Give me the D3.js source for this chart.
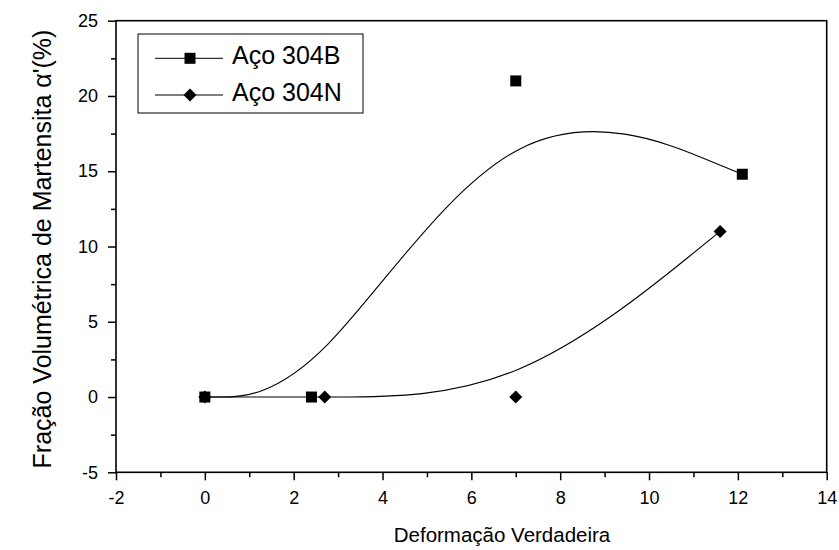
<!DOCTYPE html>
<html>
<head>
<meta charset="utf-8">
<script src="https://cdn.jsdelivr.net/npm/d3@7"></script>
<style>
  body { margin: 0; background: #fff; }
  text { font-family: "Liberation Sans", Arial, sans-serif; fill: #000; }
</style>
</head>
<body>
<div id="chart"></div>
<script>
/* data */
var seriesNames = ["Aço 304B", "Aço 304N"];
var x304B = [0, 2.4, 7, 12.1];
var y304B = [0, 0, 21, 14.8];
var x304N = [0, 2.7, 7, 11.6];
var y304N = [0, 0, 0, 11];
var xTicks = [-2, 0, 2, 4, 6, 8, 10, 12, 14];
var yTicks = [-5, 0, 5, 10, 15, 20, 25];

/* setup */
var width = 839, height = 550;
var plotLeft = 116, plotRight = 826.7, plotTop = 20.7, plotBottom = 472.3;

var svg = d3.select('#chart').append('svg')
    .attr('width', width)
    .attr('height', height);

var x = d3.scaleLinear().domain([-2, 14]).range([plotLeft, plotRight]);
var y = d3.scaleLinear().domain([-5, 25]).range([plotBottom, plotTop]);

var series = [
    { name: seriesNames[0], xs: x304B, ys: y304B, shape: 'square' },
    { name: seriesNames[1], xs: x304N, ys: y304N, shape: 'diamond' }
];

// B-spline through the points as control points (like Origin's B-Spline connect)
var line = d3.line()
    .x(function (d) { return x(d[0]); })
    .y(function (d) { return y(d[1]); })
    .curve(d3.curveBasis);

var squareSym = d3.symbol().type(d3.symbolSquare).size(121);
var diamondSym = d3.symbol().type(d3.symbolSquare).size(85);

function marker(sel, shape) {
    sel.append('path')
        .attr('d', shape === 'square' ? squareSym() : diamondSym())
        .attr('transform', function (d) {
            return 'translate(' + d[0] + ',' + d[1] + ')' + (shape === 'diamond' ? ' rotate(45)' : '');
        })
        .attr('fill', '#000');
}

/* axes */
var xMinor = d3.range(-1, 14, 2);
var yMinor = d3.range(-2.5, 25, 5);
var fmt = function (d) { return d < 0 ? '-' + Math.abs(d) : String(d); };

svg.append('g').attr('transform', 'translate(0,' + plotBottom + ')')
    .call(d3.axisBottom(x).tickValues(xMinor).tickSize(5).tickFormat(''));
svg.append('g').attr('transform', 'translate(0,' + plotBottom + ')')
    .call(d3.axisBottom(x).tickValues(xTicks).tickSize(8).tickPadding(11).tickFormat(fmt));

svg.append('g').attr('transform', 'translate(' + plotLeft + ',0)')
    .call(d3.axisLeft(y).tickValues(yMinor).tickSize(5).tickFormat(''));
svg.append('g').attr('transform', 'translate(' + plotLeft + ',0)')
    .call(d3.axisLeft(y).tickValues(yTicks).tickSize(8).tickPadding(10).tickFormat(fmt));

svg.selectAll('.domain').remove();
svg.selectAll('.tick line').attr('stroke', '#000').attr('stroke-width', 1.5);
svg.selectAll('.tick text').style('font-size', '18px').attr('fill', '#000');

svg.append('rect')
    .attr('x', plotLeft).attr('y', plotTop)
    .attr('width', plotRight - plotLeft).attr('height', plotBottom - plotTop)
    .attr('fill', 'none').attr('stroke', '#000').attr('stroke-width', 1.6);

/* curves + points */
series.forEach(function (s) {
    var pts = s.xs.map(function (v, i) { return [v, s.ys[i]]; });
    svg.append('path')
        .datum(pts)
        .attr('d', line)
        .attr('fill', 'none')
        .attr('stroke', '#000')
        .attr('stroke-width', 1.1);
    var g = svg.append('g').selectAll('g')
        .data(pts.map(function (p) { return [x(p[0]), y(p[1])]; }))
        .enter().append('g');
    marker(g, s.shape);
});

/* titles */
svg.append('text')
    .attr('x', 502).attr('y', 542)
    .attr('text-anchor', 'middle')
    .style('font-size', '20.5px')
    .text('Deformação Verdadeira');

svg.append('text')
    .attr('transform', 'translate(51,249) rotate(-90)')
    .attr('text-anchor', 'middle')
    .style('font-size', '25px')
    .text("Fração Volumétrica de Martensita α'(%)");

/* legend */
var legend = svg.append('g');
legend.append('rect')
    .attr('x', 138).attr('y', 34).attr('width', 225).attr('height', 79)
    .attr('fill', '#fff').attr('stroke', '#000').attr('stroke-width', 1);

var rowY = [58.3, 95];
series.forEach(function (s, i) {
    legend.append('line')
        .attr('x1', 155).attr('x2', 223)
        .attr('y1', rowY[i]).attr('y2', rowY[i])
        .attr('stroke', '#000').attr('stroke-width', 1);
    var g = legend.append('g').selectAll('g').data([[190, rowY[i]]]).enter().append('g');
    marker(g, s.shape);
    legend.append('text')
        .attr('x', 232).attr('y', rowY[i] + 6)
        .style('font-size', '25px')
        .text(s.name);
});
</script>
</body>
</html>
